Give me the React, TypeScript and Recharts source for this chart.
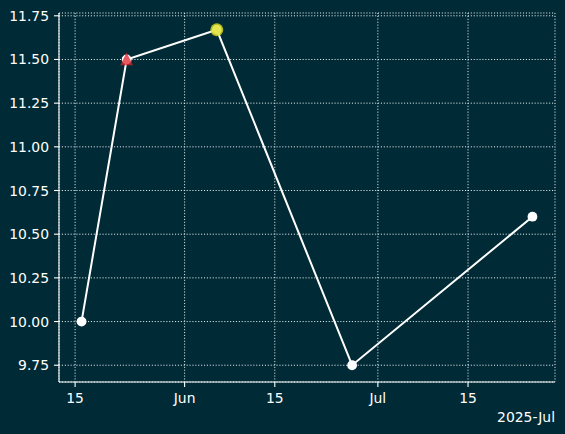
import React from 'react';
import { LineChart, Line, XAxis, YAxis, CartesianGrid } from 'recharts';

const utc = (m: number, d: number) => Date.UTC(2025, m - 1, d);

// Observation dates and values
const dates = [utc(5, 16), utc(5, 23), utc(6, 6), utc(6, 27), utc(7, 25)];
const values = [10.0, 11.5, 11.67, 9.75, 10.6];

// Axis ticks
const xTicks = [utc(5, 15), utc(6, 1), utc(6, 15), utc(7, 1), utc(7, 15)];
const xTickLabels = ['15', 'Jun', '15', 'Jul', '15'];
const yTicks = [9.75, 10.0, 10.25, 10.5, 10.75, 11.0, 11.25, 11.5, 11.75];
const offsetLabel = '2025-Jul';
const flaggedIndex = 1;

const data = dates.map((t, i) => ({ t, v: values[i] }));

const xMin = Math.min(...dates);
const xMax = Math.max(...dates);
const xPad = (xMax - xMin) * 0.05;
const yMin = Math.min(...values);
const yMax = Math.max(...values);
const yPad = (yMax - yMin) * 0.05;

const BG = '#002b36';
const FG = '#ffffff';
const FONT = "'DejaVu Sans', sans-serif";
const FS = 13.9;

const Dot = (props: any) => {
  const { cx, cy, index, payload } = props;
  if (cx == null || cy == null) return null;
  const isMax = payload.v === yMax;
  const h = 6.4;
  return (
    <g key={`d${index}`}>
      <circle cx={cx} cy={cy} r={4.9} fill={FG} />
      {index === flaggedIndex && (
        <polygon
          points={`${cx},${cy - h - 0.5} ${cx - h},${cy + h - 0.5} ${cx + h},${cy + h - 0.5}`}
          fill="#e0202a"
          fillOpacity={0.75}
        />
      )}
      {isMax && <circle cx={cx} cy={cy} r={6.5} fill="#dede1e" fillOpacity={0.78} />}
    </g>
  );
};

const XTick = (props: any) => {
  const { x, y, payload } = props;
  const i = xTicks.findIndex((t) => Math.abs(t - payload.value) < 1000);
  return (
    <text x={x} y={y + 11} textAnchor="middle" fill={FG} style={{ fontSize: FS, fontFamily: FONT }}>
      {i >= 0 ? xTickLabels[i] : ''}
    </text>
  );
};

const YTick = (props: any) => {
  const { x, y, payload } = props;
  return (
    <text x={x} y={y + 5} textAnchor="end" fill={FG} style={{ fontSize: FS, fontFamily: FONT }}>
      {Number(payload.value).toFixed(2)}
    </text>
  );
};

const OffsetLabel = (props: any) => {
  const vb = props.viewBox || {};
  return (
    <text
      x={(vb.x || 0) + (vb.width || 0)}
      y={422}
      textAnchor="end"
      fill={FG}
      style={{ fontSize: FS, fontFamily: FONT }}
    >
      {offsetLabel}
    </text>
  );
};

export default function App() {
  return (
    <div style={{ position: 'absolute', left: 0, top: 0, width: 565, height: 434, background: BG }}>
      <LineChart
        width={565}
        height={434}
        data={data}
        margin={{ top: 13, right: 10, bottom: 0, left: 0 }}
      >
        <CartesianGrid stroke="#e4eaec" strokeDasharray="1.1 1.8" strokeWidth={1} />
        <XAxis
          dataKey="t"
          type="number"
          scale="time"
          domain={[xMin - xPad, xMax + xPad]}
          ticks={xTicks}
          interval={0}
          height={52}
          tickSize={5}
          tickMargin={5}
          tick={<XTick />}
          axisLine={{ stroke: FG, strokeWidth: 1.1 }}
          tickLine={{ stroke: FG, strokeWidth: 1.1 }}
          allowDataOverflow
          label={<OffsetLabel />}
        />
        <XAxis
          xAxisId="top"
          orientation="top"
          dataKey="t"
          type="number"
          domain={[xMin - xPad, xMax + xPad]}
          height={0}
          tick={false}
          tickLine={false}
          axisLine={{ stroke: FG, strokeWidth: 1.1 }}
        />
        <YAxis
          type="number"
          domain={[yMin - yPad, yMax + yPad]}
          ticks={yTicks}
          interval={0}
          width={59}
          tickSize={5}
          tickMargin={5}
          tick={<YTick />}
          axisLine={{ stroke: FG, strokeWidth: 1.1 }}
          tickLine={{ stroke: FG, strokeWidth: 1.1 }}
          allowDataOverflow
        />
        <YAxis
          yAxisId="right"
          orientation="right"
          type="number"
          domain={[yMin - yPad, yMax + yPad]}
          width={0}
          tick={false}
          tickLine={false}
          axisLine={{ stroke: FG, strokeWidth: 1.1 }}
        />
        <Line
          dataKey="v"
          stroke={FG}
          strokeWidth={2}
          dot={<Dot />}
          activeDot={false}
          isAnimationActive={false}
        />
      </LineChart>
    </div>
  );
}
